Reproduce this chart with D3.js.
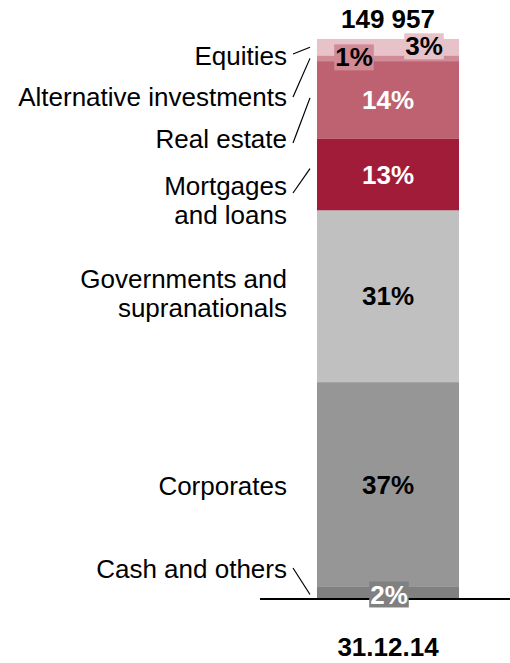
<!DOCTYPE html>
<html>
<head>
<meta charset="utf-8">
<script src="https://cdn.jsdelivr.net/npm/d3@7/dist/d3.min.js"></script>
<style>
  html, body { margin: 0; padding: 0; background: #fff; }
  svg { display: block; font-family: "Liberation Sans", Arial, Helvetica, sans-serif; }
</style>
</head>
<body>
<svg id="chart" width="510" height="663"></svg>
<script>
// Portfolio breakdown, top of the stack first
const categories = ["Equities", "Alternative investments", "Real estate", "Mortgages and loans",
                    "Governments and supranationals", "Corporates", "Cash and others"];
const shares = [3, 1, 14, 13, 31, 37, 2];          // percent of total
const totalLabel = "149 957";
const periods = ["31.12.14"];

// Styling
const segmentColors = ["#e7c3c9", "#d08b96", "#be6170", "#a11c38", "#c0c0c0", "#969696", "#808080"];
const valueTextColors = ["#000", "#000", "#fff", "#fff", "#000", "#000", "#fff"];
const boxedValues = [true, true, false, false, false, false, true];
const labelLines = [["Equities"], ["Alternative investments"], ["Real estate"], ["Mortgages", "and loans"],
                    ["Governments and", "supranationals"], ["Corporates"], ["Cash and others"]];

// Layout
const W = 510, H = 663;
const barLeft = 317, barRight = 459, barTop = 39, barBottom = 598;
const labelX = 287, lineH = 29, fontSize = 26;
const labelBaseline = [65, 106, 148, 195, 288, 495, 578];
const leader = [ // [startY at label, dy at bar end] or null
  [54, 0], [97, 0], [143, -2], [193, -6], null, null, [568, 2]
];
const valueNudge = [[36, -1], [-34, -1], [0, 0], [0, 0], [0, 0], [0, 0], [1, 2]];

const svg = d3.select("#chart");

// stack from bottom (last category) upward
const rows = categories.map((c, i) => ({ c, v: shares[i], i }));
let acc = 0;
for (let k = rows.length - 1; k >= 0; k--) {
  rows[k].y0 = acc; acc += rows[k].v; rows[k].y1 = acc;
}

const x = d3.scaleBand().domain(periods).range([barLeft, barRight]).padding(0);
const y = d3.scaleLinear().domain([0, d3.sum(shares)]).range([barBottom, barTop]);
const cx = x(periods[0]) + x.bandwidth() / 2;

// segments
svg.append("g").selectAll("rect").data(rows).join("rect")
  .attr("x", x(periods[0]))
  .attr("width", x.bandwidth())
  .attr("y", d => y(d.y1))
  .attr("height", d => y(d.y0) - y(d.y1))
  .attr("fill", d => segmentColors[d.i]);

// category labels
const lab = svg.append("g").attr("font-size", fontSize).attr("fill", "#000").attr("text-anchor", "end");
rows.forEach(d => {
  const t = lab.append("text").attr("x", labelX).attr("y", labelBaseline[d.i]);
  labelLines[d.i].forEach((ln, j) => {
    t.append("tspan").attr("x", labelX).attr("dy", j === 0 ? 0 : lineH).text(ln);
  });
});

// leader lines
svg.append("g").selectAll("line").data(rows.filter(d => leader[d.i])).join("line")
  .attr("x1", 293).attr("y1", d => leader[d.i][0])
  .attr("x2", 310).attr("y2", d => y((d.y0 + d.y1) / 2) + leader[d.i][1])
  .attr("stroke", "#000").attr("stroke-width", 1.2);

// baseline
svg.append("line").attr("x1", 260).attr("x2", W).attr("y1", barBottom + 1).attr("y2", barBottom + 1)
  .attr("stroke", "#000").attr("stroke-width", 2);

// value labels
const vals = svg.append("g").attr("font-size", fontSize).attr("font-weight", "bold").attr("text-anchor", "middle");
rows.forEach(d => {
  const px = cx + valueNudge[d.i][0];
  const py = y((d.y0 + d.y1) / 2) + valueNudge[d.i][1];
  const g = vals.append("g");
  const t = g.append("text").attr("x", px).attr("y", py).attr("dy", "0.35em")
    .attr("fill", valueTextColors[d.i]).text(d.v + "%");
  if (boxedValues[d.i]) {
    const b = t.node().getBBox();
    g.insert("rect", "text")
      .attr("x", b.x - 1).attr("width", b.width + 2)
      .attr("y", py - 13).attr("height", 26)
      .attr("fill", segmentColors[d.i]);
  }
});

// total and period
svg.append("text").attr("x", cx).attr("y", 28).attr("text-anchor", "middle")
  .attr("font-size", fontSize).attr("font-weight", "bold").text(totalLabel);
svg.append("g").selectAll("text").data(periods).join("text")
  .attr("x", d => x(d) + x.bandwidth() / 2).attr("y", 656).attr("text-anchor", "middle")
  .attr("font-size", fontSize).attr("font-weight", "bold").text(d => d);
</script>
</body>
</html>
